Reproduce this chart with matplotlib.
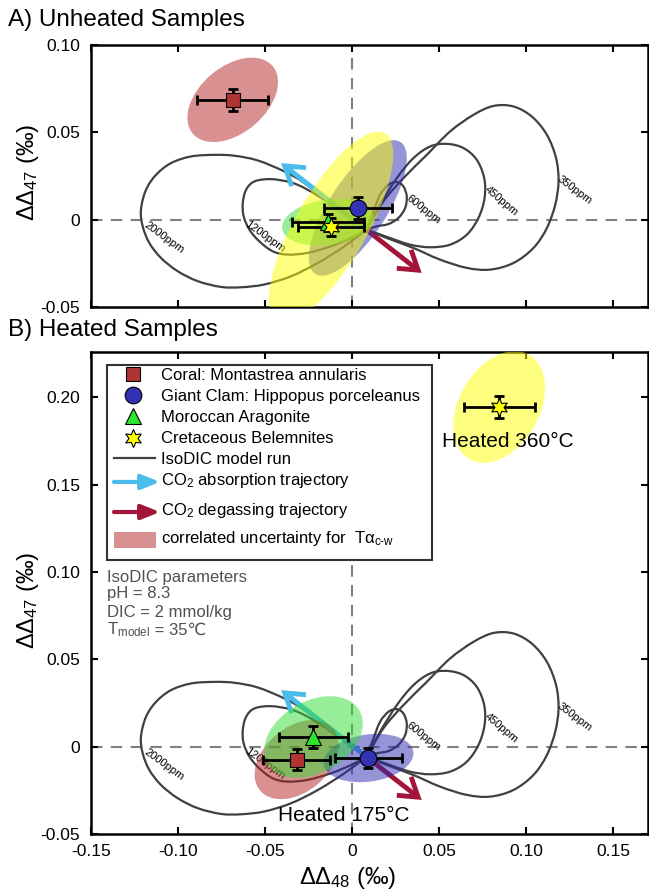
import matplotlib
matplotlib.use("Agg")
import matplotlib.pyplot as plt
from matplotlib.patches import Ellipse, FancyArrowPatch, Rectangle, PathPatch
from matplotlib.path import Path

plt.rcParams['font.family'] = ['Liberation Sans', 'DejaVu Sans']
plt.rcParams['mathtext.fontset'] = 'custom'
plt.rcParams['mathtext.rm'] = 'Liberation Sans'
plt.rcParams['mathtext.it'] = 'Liberation Sans:italic'
plt.rcParams['mathtext.default'] = 'regular'
plt.rcParams['axes.unicode_minus'] = False

# IsoDIC model runs (same loops in both panels)
ppm2000_x = [0.0084, -0.0121, -0.0274, -0.0389, -0.0542, -0.0676, -0.0791, -0.0925, -0.1040, -0.1126, -0.1184, -0.1213,
             -0.1203, -0.1165, -0.1098, -0.1002, -0.0887, -0.0753, -0.0638, -0.0504, -0.0351, -0.0197, -0.0044, 0.0084]
ppm2000_y = [-0.0057, 0.0086, 0.0210, 0.0276, 0.0339, 0.0366, 0.0371, 0.0362, 0.0324, 0.0257, 0.0171, 0.0057,
             -0.0038, -0.0133, -0.0219, -0.0295, -0.0352, -0.0385, -0.0387, -0.0371, -0.0324, -0.0248, -0.0152, -0.0057]
ppm1200_x = [0.0084, -0.0102, -0.0255, -0.0351, -0.0466, -0.0561, -0.0609, -0.0628, -0.0623, -0.0590, -0.0533,
             -0.0456, -0.0370, -0.0255, -0.0121, -0.0006, 0.0084]
ppm1200_y = [-0.0057, 0.0076, 0.0171, 0.0213, 0.0232, 0.0219, 0.0171, 0.0095, 0.0019, -0.0057, -0.0124,
             -0.0181, -0.0200, -0.0190, -0.0152, -0.0105, -0.0057]
ppm600_x = [0.0084, 0.0123, 0.0161, 0.0209, 0.0257, 0.0295, 0.0314, 0.0305, 0.0266, 0.0209, 0.0142, 0.0084]
ppm600_y = [-0.0057, 0.0048, 0.0143, 0.0200, 0.0215, 0.0190, 0.0133, 0.0067, 0.0010, -0.0025, -0.0038, -0.0057]
ppm450_x = [0.0084, 0.0161, 0.0257, 0.0352, 0.0448, 0.0544, 0.0640, 0.0716, 0.0759, 0.0761, 0.0726, 0.0659,
            0.0563, 0.0448, 0.0333, 0.0218, 0.0084]
ppm450_y = [-0.0057, 0.0086, 0.0238, 0.0352, 0.0419, 0.0434, 0.0410, 0.0343, 0.0238, 0.0124, 0.0010, -0.0086,
            -0.0143, -0.0158, -0.0143, -0.0105, -0.0057]
ppm350_x = [0.0084, 0.0180, 0.0295, 0.0429, 0.0563, 0.0697, 0.0812, 0.0927, 0.1033, 0.1119, 0.1172, 0.1186,
            0.1167, 0.1119, 0.1042, 0.0927, 0.0793, 0.0659, 0.0506, 0.0352, 0.0199, 0.0084]
ppm350_y = [-0.0057, 0.0105, 0.0238, 0.0371, 0.0505, 0.0600, 0.0651, 0.0648, 0.0590, 0.0486, 0.0352, 0.0219,
            0.0086, -0.0048, -0.0162, -0.0248, -0.0286, -0.0276, -0.0229, -0.0162, -0.0105, -0.0057]
loop_labels = ['2000ppm', '1200ppm', '600ppm', '450ppm', '350ppm']
loop_label_x = [-0.1079, -0.0500, 0.0410, 0.0860, 0.1276]
loop_label_y = [-0.0105, -0.0099, 0.0057, 0.0109, 0.0171]
loop_label_rot = [-36, -36, -38, -40, -37]

# CO2 trajectories
traj_start = (0.0085, -0.0060)
absorb_end = (-0.0408, 0.0324)
degas_end = (0.0400, -0.0305)

samples = ['Coral: Montastrea annularis', 'Giant Clam: Hippopus porceleanus',
           'Moroccan Aragonite', 'Cretaceous Belemnites']

# A) unheated
a_x = [-0.0686, 0.0033, -0.0139, -0.0121]
a_y = [0.0686, 0.0067, -0.0015, -0.0042]
a_xerr = [0.0203, 0.0197, 0.0206, 0.0191]
a_yerr = [0.0064, 0.0062, 0.0050, 0.0054]
a_ell_w = [0.060, 0.090, 0.053, 0.124]
a_ell_h = [0.038, 0.033, 0.026, 0.041]
a_ell_ang = [40, 57, 8, 60]

# B) heated
b_x = [-0.0318, 0.0094, -0.0222, 0.0845]
b_y = [-0.0074, -0.0065, 0.0055, 0.1945]
b_xerr = [0.0192, 0.0194, 0.0200, 0.0203]
b_yerr = [0.0059, 0.0055, 0.0063, 0.0062]
b_ell_w = [0.055, 0.052, 0.061, 0.069]
b_ell_h = [0.037, 0.027, 0.041, 0.046]
b_ell_ang = [40, 8, 30, 60]

x_ticks = [-0.15, -0.10, -0.05, 0, 0.05, 0.10, 0.15]
x_ticklabels = ['-0.15', '-0.10', '-0.05', '0', '0.05', '0.10', '0.15']

markers = ['s', 'o', '^', (6, 1, 0)]
msizes = [10, 12, 11, 13]
mcolors = ['#b03434', '#3232b4', '#2ee62e', '#ffff00']
ecolors = ['#b22222', '#2b2bb0', '#33dd33', '#ffff00']
cyan = '#4bbdec'
crimson = '#a3143a'
loop_color = '#404040'


def smooth_path(xs, ys):
    # cubic bezier segments passing through the read points (open at the loop tip)
    pts = list(zip(xs, ys))
    n = len(pts)
    verts = [pts[0]]
    codes = [Path.MOVETO]
    for i in range(n - 1):
        p0 = pts[i - 1] if i > 0 else pts[i]
        p1 = pts[i]
        p2 = pts[i + 1]
        p3 = pts[i + 2] if i + 2 < n else pts[i + 1]
        k1 = 6.0 if i > 0 else 3.0
        k2 = 6.0 if i + 2 < n else 3.0
        c1 = (p1[0] + (p2[0] - p0[0]) / k1, p1[1] + (p2[1] - p0[1]) / k1)
        c2 = (p2[0] - (p3[0] - p1[0]) / k2, p2[1] - (p3[1] - p1[1]) / k2)
        verts += [c1, c2, p2]
        codes += [Path.CURVE4] * 3
    return Path(verts, codes)


def draw_panel(ax, xs, ys, xerr, yerr, ew, eh, ea, ylim, yticks, yticklabels):
    ax.set_xlim(-0.15, 0.17)
    ax.set_ylim(*ylim)
    ax.axhline(0, color='#808080', lw=1.5, dashes=(5.5, 4), zorder=1)
    ax.axvline(0, color='#808080', lw=1.5, dashes=(5.5, 4), zorder=1)

    loops = [(ppm2000_x, ppm2000_y), (ppm1200_x, ppm1200_y), (ppm600_x, ppm600_y),
             (ppm450_x, ppm450_y), (ppm350_x, ppm350_y)]
    for lx, ly in loops:
        ax.add_patch(PathPatch(smooth_path(lx, ly), facecolor='none', edgecolor=loop_color,
                               lw=1.6, zorder=2))
    for lab, lx, ly, r in zip(loop_labels, loop_label_x, loop_label_y, loop_label_rot):
        ax.text(lx, ly, lab, rotation=r, fontsize=8, ha='center', va='center', zorder=2)

    for end, col in [(absorb_end, cyan), (degas_end, crimson)]:
        arr = FancyArrowPatch(traj_start, end, arrowstyle='->,head_length=0.65,head_width=0.42',
                              mutation_scale=20, color=col, lw=3.5, zorder=2.5,
                              shrinkA=0, shrinkB=0, joinstyle='miter', capstyle='butt')
        ax.add_patch(arr)

    for i in range(4):
        ax.add_patch(Ellipse((xs[i], ys[i]), ew[i], eh[i], angle=ea[i],
                             facecolor=ecolors[i], alpha=0.5, edgecolor='none', zorder=3))
    for i in range(4):
        ax.errorbar(xs[i], ys[i], xerr=xerr[i], yerr=yerr[i], fmt='none', ecolor='black',
                    elinewidth=2, capsize=3.5, capthick=2, zorder=4)
        ax.plot(xs[i], ys[i], marker=markers[i], ms=msizes[i], mfc=mcolors[i], mec='black',
                mew=0.8, ls='none', zorder=5)

    ax.set_xticks(x_ticks)
    ax.set_yticks(yticks)
    ax.set_yticklabels(yticklabels)
    ax.tick_params(direction='in', length=5, width=1.5, top=True, right=True, labelsize=12.5)
    ax.tick_params(axis='y', pad=8)
    ax.tick_params(axis='x', pad=7)
    for s in ax.spines.values():
        s.set_linewidth(1.8)


fig = plt.figure(figsize=(6.49, 8.93), dpi=100)
ax1 = fig.add_axes([91 / 649, 1 - 307 / 893, 557 / 649, 262 / 893])
ax2 = fig.add_axes([91 / 649, 1 - 834 / 893, 557 / 649, 482 / 893])

draw_panel(ax1, a_x, a_y, a_xerr, a_yerr, a_ell_w, a_ell_h, a_ell_ang, (-0.05, 0.10),
           [-0.05, 0, 0.05, 0.10], ['-0.05', '0', '0.05', '0.10'])
ax1.set_xticklabels([])

draw_panel(ax2, b_x, b_y, b_xerr, b_yerr, b_ell_w, b_ell_h, b_ell_ang, (-0.05, 0.226),
           [-0.05, 0, 0.05, 0.10, 0.15, 0.20], ['-0.05', '0', '0.05', '0.10', '0.15', '0.20'])
ax2.set_xticklabels(x_ticklabels)

ax2.text(0.0896, 0.175, 'Heated 360°C', fontsize=15, ha='center', va='center', zorder=6)
ax2.text(-0.0046, -0.0393, 'Heated 175°C', fontsize=15, ha='center', va='center', zorder=6)

# legend (drawn by hand in axes fraction)
T = ax2.transAxes
ax2.add_patch(Rectangle((0.0287, 0.5682), 0.5835, 0.4054, transform=T, facecolor='white',
                        edgecolor='#333333', lw=1.5, zorder=7))
mk_y = [0.9543, 0.9106, 0.8669, 0.8223]
txt_y = [0.9418, 0.8988, 0.8552, 0.8115]
for i in range(4):
    ax2.plot(0.0754, mk_y[i], transform=T, marker=markers[i], ms=msizes[i], mfc=mcolors[i],
             mec='black', mew=0.8, ls='none', zorder=8, clip_on=False)
    ax2.text(0.1257, txt_y[i], samples[i], transform=T, fontsize=12, va='baseline', zorder=8)
ax2.plot([0.0413, 0.1149], [0.7810, 0.7810], transform=T, color=loop_color, lw=1.6, zorder=8)
ax2.text(0.1257, 0.7686, 'IsoDIC model run', transform=T, fontsize=12, va='baseline', zorder=8)
for yy, ty, col, lab in [(0.7304, 0.7235, cyan, 'CO$_2$ absorption trajectory'),
                         (0.6680, 0.6611, crimson, 'CO$_2$ degassing trajectory')]:
    ax2.add_patch(FancyArrowPatch((0.0413, yy), (0.1239, yy), transform=T,
                                  arrowstyle='-|>,head_length=0.55,head_width=0.22', mutation_scale=20,
                                  color=col, lw=3, shrinkA=0, shrinkB=0, zorder=8))
    ax2.text(0.1257, ty, lab, transform=T, fontsize=12, va='baseline', zorder=8)
ax2.add_patch(Rectangle((0.0413, 0.5935), 0.0754, 0.0329, transform=T, facecolor=ecolors[0],
                        alpha=0.5, edgecolor='none', zorder=8))
ax2.text(0.1257, 0.6035, r'correlated uncertainty for  Tα$_{c\text{-}w}$', transform=T, fontsize=12,
         va='baseline', zorder=8)

params = ['IsoDIC parameters', 'pH = 8.3', 'DIC = 2 mmol/kg']
params_y = [0.5218, 0.4886, 0.4511, 0.4137]
for s, yy in zip(params, params_y):
    ax2.text(0.0287, yy, s, transform=T, fontsize=12, color='#505050', va='baseline', zorder=8)
t_model = ax2.text(0.0287, params_y[3], 'T$_{model}$', transform=T, fontsize=12, color='#505050',
                   va='baseline', zorder=8)
ax2.annotate(' = 35℃', xy=(1, params_y[3]), xycoords=(t_model, T), fontsize=12, color='#505050',
             ha='left', va='baseline', zorder=8)

fig.text(8 / 649, 1 - 20 / 893, 'A) Unheated Samples', fontsize=17.5, ha='left', va='center')
fig.text(8 / 649, 1 - 330 / 893, 'B) Heated Samples', fontsize=17.5, ha='left', va='center')
fig.text(28 / 649, 1 - 172 / 893, r'ΔΔ$_{47}$ (‰)', fontsize=17, rotation=90, ha='center', va='center')
fig.text(28 / 649, 1 - 600 / 893, r'ΔΔ$_{47}$ (‰)', fontsize=17, rotation=90, ha='center', va='center')
fig.text(348 / 649, 1 - 878 / 893, r'ΔΔ$_{48}$ (‰)', fontsize=17, ha='center', va='center')

fig.savefig('out.png', dpi=100)
